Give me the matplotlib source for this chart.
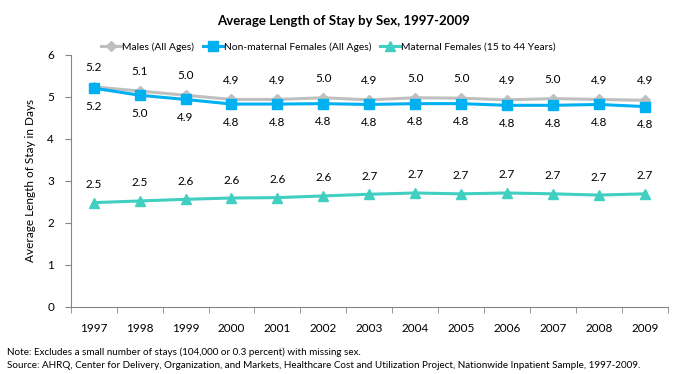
import matplotlib.pyplot as plt
import numpy as np

plt.rcParams['font.family'] = ['Lato', 'DejaVu Sans']

years = ['1997', '1998', '1999', '2000', '2001', '2002', '2003',
         '2004', '2005', '2006', '2007', '2008', '2009']
males = [5.24, 5.14, 5.04, 4.94, 4.94, 4.98, 4.93, 4.98, 4.97, 4.93, 4.96, 4.94, 4.92]
non_maternal = [5.21, 5.04, 4.94, 4.83, 4.83, 4.84, 4.82, 4.84, 4.84, 4.80, 4.80, 4.82, 4.77]
maternal = [2.48, 2.52, 2.56, 2.59, 2.60, 2.64, 2.68, 2.71, 2.69, 2.71, 2.69, 2.66, 2.69]

grey = '#BFBFBF'
blue = '#00B0F0'
teal = '#40CFC0'
axis_col = '#868686'

fig = plt.figure(figsize=(6.84, 3.74), dpi=100)
ax = fig.add_axes([0.1034, 0.18, 0.873, 0.673])

x = np.arange(len(years))
ax.plot(x, males, color=grey, lw=2.2, marker='D', ms=5.5, label='Males (All Ages)')
ax.plot(x, non_maternal, color=blue, lw=2.2, marker='s', ms=7, label='Non-maternal Females (All Ages)')
ax.plot(x, maternal, color=teal, lw=2.2, marker='^', ms=7, label='Maternal Females (15 to 44 Years)')

# data labels: males and maternal above, non-maternal below
for xi, v in zip(x, males):
    ax.annotate('%.1f' % v, (xi, v), xytext=(0, 10), textcoords='offset points',
                ha='center', va='bottom', fontsize=8.5)
for xi, v in zip(x, non_maternal):
    ax.annotate('%.1f' % v, (xi, v), xytext=(0, -9), textcoords='offset points',
                ha='center', va='top', fontsize=8.5)
for xi, v in zip(x, maternal):
    ax.annotate('%.1f' % v, (xi, v), xytext=(0, 9), textcoords='offset points',
                ha='center', va='bottom', fontsize=8.5)

ax.set_xlim(-0.5, len(years) - 0.5)
ax.set_ylim(0, 6)
ax.set_yticks(range(0, 7))
ax.set_xticks(x)
ax.set_xticklabels(years)
ax.set_xticks(np.arange(-0.5, len(years)), minor=True)
ax.tick_params(axis='x', which='major', length=0, pad=12, labelsize=8.5)
ax.tick_params(axis='x', which='minor', length=4, color=axis_col)
ax.tick_params(axis='y', length=4, color=axis_col, pad=8, labelsize=8.5)
for s in ['top', 'right']:
    ax.spines[s].set_visible(False)
for s in ['left', 'bottom']:
    ax.spines[s].set_color(axis_col)
ax.set_ylabel('Average Length of Stay in Days', fontsize=8.5, labelpad=8)

fig.text(0.502, 0.945, 'Average Length of Stay by Sex, 1997-2009',
         ha='center', va='center', fontsize=9.5, fontweight='bold')
ax.legend(loc='center', bbox_to_anchor=(0.48, 0.874), bbox_transform=fig.transFigure,
          ncol=3, frameon=False, fontsize=7.4, handlelength=1.9, columnspacing=0.9,
          handletextpad=0.1, borderaxespad=0)

fig.text(0.01, 0.058, 'Note: Excludes a small number of stays (104,000 or 0.3 percent) with missing sex.',
         fontsize=7.1, va='center')
fig.text(0.01, 0.022, 'Source: AHRQ, Center for Delivery, Organization, and Markets, Healthcare Cost and '
         'Utilization Project, Nationwide Inpatient Sample, 1997-2009.',
         fontsize=7.1, va='center')

fig.savefig('out.png', dpi=100)
